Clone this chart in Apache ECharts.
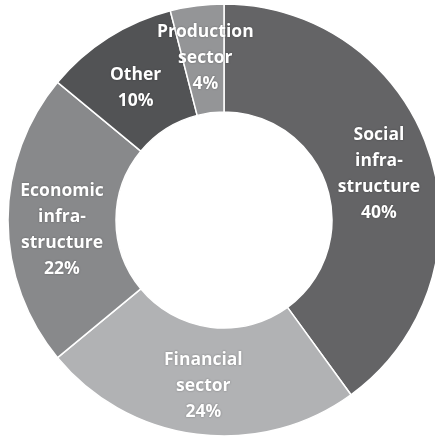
<!DOCTYPE html>
<html>
<head>
<meta charset="utf-8">
<script src="https://cdn.jsdelivr.net/npm/echarts@6/dist/echarts.min.js"></script>
<style>
html,body{margin:0;padding:0;background:#fff;}
#c{width:435px;height:440px;}
</style>
</head>
<body>
<div id="c"></div>
<script>
const categories = ["Social\ninfra-\nstructure", "Financial\nsector", "Economic\ninfra-\nstructure", "Other", "Production\nsector"];
const values = [40, 24, 22, 10, 4];
const colors = ["#646466", "#b1b2b4", "#88898b", "#525355", "#949597"];

// label fine-tuning (style only)
const labelShift = {0: [-2, 5], 1: [0, 2], 2: [3, 10], 3: [0, 7], 4: [2, 2]};

const chart = echarts.init(document.getElementById('c'), null, {renderer: 'canvas'});
chart.setOption({
  animation: false,
  backgroundColor: '#ffffff',
  series: [{
    type: 'pie',
    center: [224, 220],
    radius: [108, 216],
    startAngle: 90,
    clockwise: true,
    avoidLabelOverlap: false,
    data: categories.map((c, i) => ({
      name: c, value: values[i],
      itemStyle: {color: colors[i]}
    })),
    itemStyle: {borderColor: '#ffffff', borderWidth: 1.5},
    label: {
      show: true,
      position: 'inside',
      formatter: p => p.name + '\n' + p.value + '%',
      color: '#ffffff',
      fontFamily: 'Open Sans',
      fontWeight: 'bold',
      fontSize: 17.5,
      lineHeight: 26,
      align: 'center',
      textShadowColor: 'rgba(0,0,0,0.35)',
      textShadowBlur: 2
    },
    labelLayout: function (p) {
      const s = labelShift[p.dataIndex] || [0, 0];
      return {dx: s[0], dy: s[1]};
    },
    labelLine: {show: false},
    emphasis: {disabled: true}
  }]
});
</script>
</body>
</html>
